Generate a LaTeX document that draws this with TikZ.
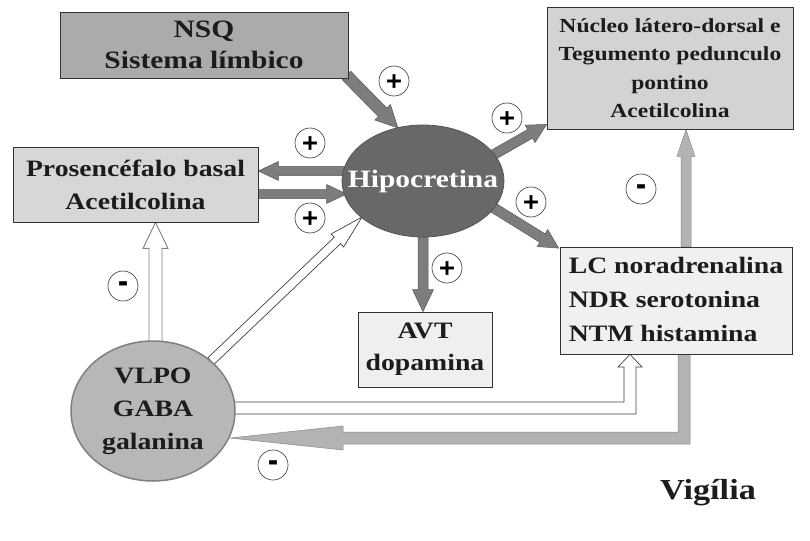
\documentclass[tikz,border=0pt]{standalone}
\usepackage{fontspec}
\setmainfont{Liberation Serif}[FakeStretch=1.18]
\newfontfamily\signfont{DejaVu Sans}[BoldFeatures={FakeBold=2}]
\usetikzlibrary{calc,backgrounds,shapes.geometric}
\definecolor{txt}{HTML}{1C1C1C}
\definecolor{darkarr}{HTML}{7D7D7D}
\definecolor{darkarrline}{HTML}{5A5A5A}
\definecolor{lightarr}{HTML}{B3B3B3}
\definecolor{lightarrline}{HTML}{8A8A8A}
\newcommand\fsz[2]{\fontsize{#1}{#2}\selectfont\bfseries}
\newcommand\blockarrow[6][]{%
  \coordinate (baA) at (#2);
  \coordinate (baB) at (#3);
  \coordinate (baC) at ($(baB)!#6!(baA)$);
  \draw[#1] ($(baA)!#4!90:(baB)$) -- ($(baC)!#4!90:(baB)$) -- ($(baC)!#5!90:(baB)$) -- (baB)
    -- ($(baC)!#5!-90:(baB)$) -- ($(baC)!#4!-90:(baB)$) -- ($(baA)!#4!-90:(baB)$) -- cycle;
}
\begin{document}
\begin{tikzpicture}[x=1pt,y=-1pt,
  box/.style={draw=black!80, line width=0.8pt, rectangle, inner sep=0pt, align=center, text=txt},
  sign/.style={circle, draw=black!70, line width=0.7pt, fill=white, minimum size=30pt, inner sep=0pt, text=black},
  plus/.style={sign, font={\signfont\bfseries\fontsize{21}{21}\selectfont}},
  minus/.style={sign, font={\signfont\bfseries\fontsize{24}{24}\selectfont}},
  darkarrow/.style={fill=darkarr, draw=darkarrline, line width=0.5pt},
  lightarrow/.style={fill=lightarr, draw=lightarrline, line width=0.5pt},
  hollowarrow/.style={fill=white, draw=black!75, line width=0.7pt},
  hollowgray/.style={fill=white, draw=black!50, line width=0.9pt}]
\useasboundingbox (0,0) rectangle (810,540);

% nodes
\node[box, fill={rgb,255:red,171;green,171;blue,171}, minimum width=288pt, minimum height=66pt,
  font={\fsz{25}{31}}] (nsq) at (204,45) {NSQ\\Sistema límbico};
\node[box, fill={rgb,255:red,215;green,215;blue,215}, minimum width=245pt, minimum height=75pt,
  font={\fsz{23.5}{33}}] (pb) at (135.5,184.5) {Prosencéfalo basal\\Acetilcolina};
\node[ellipse, fill={rgb,255:red,104;green,104;blue,104}, draw={rgb,255:red,85;green,85;blue,85}, line width=0.8pt,
  minimum width=162pt, minimum height=112pt, inner sep=0pt, text=white, font={\fsz{25}{30}}] (hip) at (423,181)
  {\makebox[0pt]{Hipocretina}};
\node[box, fill={rgb,255:red,211;green,211;blue,211}, minimum width=246pt, minimum height=122pt,
  font={\fsz{20}{28.5}}] (nuc) at (670,68) {Núcleo látero-dorsal e\\Tegumento pedunculo\\pontino\\Acetilcolina};
\node[box, fill={rgb,255:red,240;green,240;blue,240}, minimum width=232pt, minimum height=107pt,
  font={\fsz{23.5}{34}}] (lc) at (676,300.5)
  {\begin{tabular}{@{}l@{}}LC noradrenalina\\NDR serotonina\\NTM histamina\end{tabular}};
\node[box, fill={rgb,255:red,239;green,239;blue,239}, minimum width=134pt, minimum height=75pt,
  font={\fsz{23.5}{32}}] (avt) at (425,349.5) {AVT\\dopamina};
\node[ellipse, fill={rgb,255:red,183;green,183;blue,183}, draw={rgb,255:red,128;green,128;blue,128}, line width=1.5pt,
  minimum width=164pt, minimum height=140pt, inner sep=0pt, align=center, text=txt,
  font={\fsz{23.5}{33}}] (vlpo) at (153,411) {VLPO\\GABA\\galanina};
\node[text=txt, font={\fsz{29}{34}}] (vig) at (708,493) {Vigília};

% signs
\node[plus] (s1) at (394,81) {+};
\node[plus] (s2) at (310,143) {+};
\node[plus] (s3) at (310,218) {+};
\node[plus] (s4) at (507,118) {+};
\node[plus] (s5) at (531,202) {+};
\node[plus] (s6) at (447,268) {+};
\node[minus] (s7) at (641,189) {-};
\node[minus] (s8) at (123,286) {-};
\node[minus] (s9) at (273,465) {-};

% connectors
\begin{pgfonlayer}{background}
\coordinate (nsqout) at (nsq.south east);
\coordinate (hipin1) at (398,128);
\blockarrow[darkarrow]{$(nsqout)+(-2,-3)$}{hipin1}{6pt}{11pt}{22pt}
\blockarrow[darkarrow]{$(hip.west)+(4,-10)$}{$(pb.east)+(0,-13.5)$}{4.5pt}{9.5pt}{20pt}
\blockarrow[darkarrow]{$(pb.east)+(0,9.5)$}{$(hip.west)+(5,13)$}{4.5pt}{9.5pt}{20pt}
\blockarrow[darkarrow]{$(hip.center)+(70,-26)$}{$(nuc.south west)+(0,-5)$}{5pt}{10pt}{19pt}
\blockarrow[darkarrow]{$(hip.center)+(66,24)$}{$(lc.north west)+(-1,1.5)$}{5pt}{10pt}{19pt}
\blockarrow[darkarrow]{hip.south}{avt.north -| hip.south}{5pt}{10.5pt}{22pt}
\blockarrow[lightarrow]{lc.north -| 686,0}{nuc.south -| 686,0}{5pt}{9pt}{27pt}
\blockarrow[hollowgray]{$(vlpo.north)+(2.5,2)$}{pb.south -| 155.5,0}{6.5pt}{12.5pt}{26pt}
\blockarrow[hollowarrow]{$(vlpo.center)+(58,-50)$}{$(hip.center)+(-61,36)$}{4.5pt}{9pt}{34pt}
% LC -> VLPO (elbow)
\coordinate (lcb) at (lc.south -| 684,0);
\draw[lightarrow] ($(lcb)+(-6,0)$) -- ($(lcb)+(6,0)$) -- (690,444) -- (343,444) -- (343,450) -- (230,438)
  -- (343,426) -- (343,432) -- (678,432) -- cycle;
% VLPO -> LC (hollow elbow)
\coordinate (lcb2) at (lc.south -| 630,0);
\draw[hollowarrow] (200,402) -- (624,402) -- (624,367) -- (618,367) -- (lcb2) -- (642,367) -- (636,367)
  -- (636,414) -- (200,414) -- cycle;
\end{pgfonlayer}
\end{tikzpicture}
\end{document}
